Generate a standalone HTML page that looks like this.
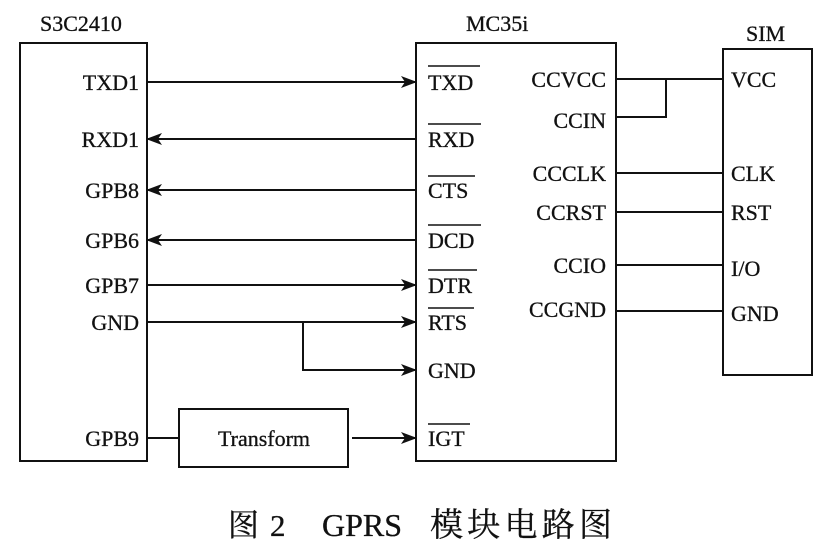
<!DOCTYPE html>
<html><head><meta charset="utf-8"><style>
html,body{margin:0;padding:0;background:#fff;}
svg{display:block;}
text{font-family:"Liberation Serif","Noto Serif CJK SC",serif;font-size:22px;fill:#111;stroke:#111;stroke-width:0.3;}
</style></head><body>
<svg width="826" height="554" viewBox="0 0 826 554" xmlns="http://www.w3.org/2000/svg">
<defs>
<marker id="a" markerWidth="16" markerHeight="12" refX="15" refY="6" orient="auto" markerUnits="userSpaceOnUse">
<path d="M0,0 L16,6 L0,12 L4,6 Z" fill="#111"/></marker>
</defs>
<text x="40" y="31">S3C2410</text>
<text x="466" y="31">MC35i</text>
<text x="746" y="41">SIM</text>
<g fill="none" stroke="#111" stroke-width="2">
<rect x="20" y="43" width="127" height="418"/>
<rect x="416" y="43" width="200" height="418"/>
<rect x="723" y="49" width="89" height="326"/>
<rect x="179" y="409" width="169" height="58"/>
</g>
<g stroke="#111" stroke-width="2" fill="none">
<line x1="147" y1="82" x2="416" y2="82" marker-end="url(#a)"/>
<line x1="416" y1="139" x2="147" y2="139" marker-end="url(#a)"/>
<line x1="416" y1="190" x2="147" y2="190" marker-end="url(#a)"/>
<line x1="416" y1="240" x2="147" y2="240" marker-end="url(#a)"/>
<line x1="147" y1="285" x2="416" y2="285" marker-end="url(#a)"/>
<line x1="147" y1="322" x2="416" y2="322" marker-end="url(#a)"/>
<polyline points="303,322 303,370 416,370" marker-end="url(#a)"/>
<line x1="147" y1="438" x2="179" y2="438"/>
<line x1="352" y1="438" x2="416" y2="438" marker-end="url(#a)"/>
<line x1="616" y1="79" x2="723" y2="79"/>
<polyline points="616,117 666,117 666,79"/>
<line x1="616" y1="173" x2="723" y2="173"/>
<line x1="616" y1="212" x2="723" y2="212"/>
<line x1="616" y1="265" x2="723" y2="265"/>
<line x1="616" y1="311" x2="723" y2="311"/>
</g>
<g text-anchor="end">
<text x="139" y="90">TXD1</text>
<text x="139" y="147">RXD1</text>
<text x="139" y="198">GPB8</text>
<text x="139" y="248">GPB6</text>
<text x="139" y="293">GPB7</text>
<text x="139" y="330">GND</text>
<text x="139" y="446">GPB9</text>
<text x="606" y="87">CCVCC</text>
<text x="606" y="128">CCIN</text>
<text x="606" y="181">CCCLK</text>
<text x="606" y="220">CCRST</text>
<text x="606" y="273">CCIO</text>
<text x="606" y="317">CCGND</text>
</g>
<text x="264" y="446" text-anchor="middle">Transform</text>
<g>
<text x="428" y="90">TXD</text>
<text x="428" y="147">RXD</text>
<text x="428" y="198">CTS</text>
<text x="428" y="248">DCD</text>
<text x="428" y="293">DTR</text>
<text x="428" y="330">RTS</text>
<text x="428" y="378">GND</text>
<text x="428" y="446">IGT</text>
<text x="731" y="87">VCC</text>
<text x="731" y="181">CLK</text>
<text x="731" y="220">RST</text>
<text x="731" y="276">I/O</text>
<text x="731" y="321">GND</text>
</g>
<g stroke="#111" stroke-width="1.5">
<line x1="428" y1="66" x2="480" y2="66"/>
<line x1="428" y1="124" x2="481" y2="124"/>
<line x1="428" y1="176" x2="475" y2="176"/>
<line x1="428" y1="225" x2="481" y2="225"/>
<line x1="428" y1="270" x2="477" y2="270"/>
<line x1="428" y1="308" x2="474" y2="308"/>
<line x1="428" y1="424" x2="470" y2="424"/>
</g>
<g style="font-family:'Noto Serif CJK SC','Liberation Serif',serif;">
<text x="228" y="536" style="font-size:31px">图</text>
<text x="270" y="536" style="font-size:31px;font-family:'Liberation Serif',serif">2</text>
<text x="322" y="536" style="font-size:32px;font-family:'Liberation Serif',serif">GPRS</text>
<text x="430" y="536" style="font-size:33px" textLength="182">模块电路图</text>
</g>
</svg>
</body></html>
